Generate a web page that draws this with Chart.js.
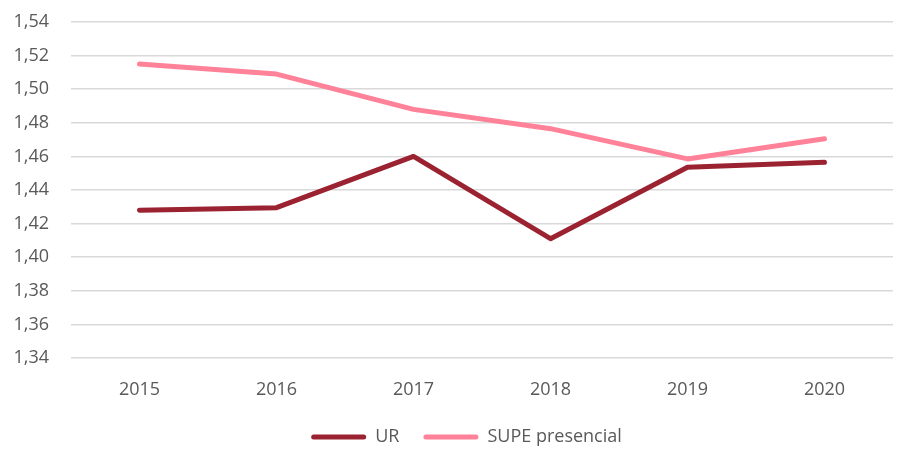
<!DOCTYPE html>
<html>
<head>
<meta charset="utf-8">
<script src="https://cdn.jsdelivr.net/npm/chart.js@4"></script>
<style>
  html, body { margin: 0; padding: 0; background: #fff; }
  #wrap { width: 899px; height: 450px; }
</style>
</head>
<body>
<div id="wrap"><canvas id="lineChart"></canvas></div>
<script>
const years = ['2015', '2016', '2017', '2018', '2019', '2020'];
const urValues = [1.428, 1.4295, 1.460, 1.411, 1.4535, 1.4565];
const supeValues = [1.515, 1.509, 1.488, 1.4765, 1.4585, 1.4705];
const yMin = 1.34;
const yMax = 1.54;

const fontFamily = "'Source Sans Pro', 'Open Sans', sans-serif";
const textColor = '#595959';

// nudge the legend a bit to the right, closer to the middle of the plot
const legendShift = {
    id: 'legendShift',
    afterLayout(chart) {
        if (chart.legend) {
            chart.legend.left += 14;
            chart.legend.right += 14;
        }
    }
};

const ctx = document.getElementById('lineChart').getContext('2d');

new Chart(ctx, {
    type: 'line',
    data: {
        labels: years,
        datasets: [
            {
                label: 'UR',
                data: urValues,
                borderColor: '#9B2230',
                backgroundColor: '#9B2230',
                borderWidth: 5,
                pointRadius: 0,
                borderCapStyle: 'round',
                borderJoinStyle: 'round',
                tension: 0
            },
            {
                label: 'SUPE presencial',
                data: supeValues,
                borderColor: '#FF8299',
                backgroundColor: '#FF8299',
                borderWidth: 5,
                pointRadius: 0,
                borderCapStyle: 'round',
                borderJoinStyle: 'round',
                tension: 0
            }
        ]
    },
    plugins: [legendShift],
    options: {
        responsive: true,
        maintainAspectRatio: false,
        animation: false,
        layout: {
            padding: { left: 12, right: 6, top: 0, bottom: -6 }
        },
        plugins: {
            tooltip: { enabled: false },
            legend: {
                position: 'bottom',
                labels: {
                    color: textColor,
                    font: { family: fontFamily, size: 18 },
                    boxWidth: 55,
                    boxHeight: 5,
                    padding: 24,
                    useBorderRadius: true,
                    borderRadius: 2.5,
                    generateLabels: (chart) => {
                        const items = Chart.defaults.plugins.legend.labels.generateLabels(chart);
                        items.forEach(item => { item.lineWidth = 0; });
                        return items;
                    }
                }
            }
        },
        scales: {
            x: {
                offset: true,
                grid: { display: false, drawTicks: false },
                border: { display: false },
                ticks: {
                    color: textColor,
                    font: { family: fontFamily, size: 18 },
                    padding: 21
                },
                afterFit: (scale) => { scale.height = 46; }
            },
            y: {
                min: yMin,
                max: yMax,
                grid: { color: '#D9D9D9', lineWidth: 1.5, drawTicks: false },
                border: { display: false },
                ticks: {
                    stepSize: 0.02,
                    color: textColor,
                    font: { family: fontFamily, size: 18 },
                    padding: 22,
                    callback: (v) => v.toFixed(2).replace('.', ',')
                },
                afterFit: (scale) => {
                    scale.width = 59;
                    scale.paddingTop = 22;
                    scale.paddingBottom = 10;
                }
            }
        }
    }
});
</script>
</body>
</html>
